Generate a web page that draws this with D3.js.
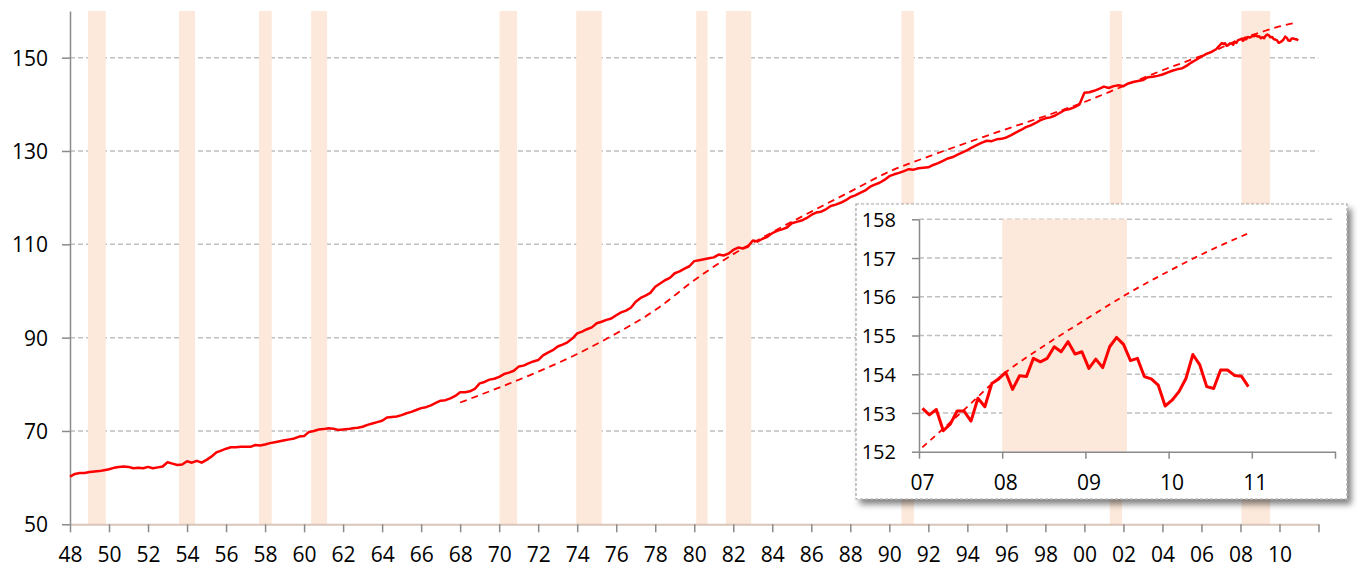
<!DOCTYPE html>
<html>
<head>
<meta charset="utf-8">
<script src="https://cdn.jsdelivr.net/npm/d3@7"></script>
<style>
body { margin: 0; background: #fff; }
text { font-family: "Open Sans", sans-serif; fill: #000; }
</style>
</head>
<body>
<svg id="chart" width="1359" height="569"></svg>
<script>
// labour force, millions, quarterly 1948-2006
var firstYear = 1948;
var laborForceQuarterly = [
    60.2, 60.8, 61.0, 61.0,   // 48
    61.2, 61.3, 61.4, 61.6,   // 49
    61.8, 62.1, 62.3, 62.4,   // 50
    62.3, 62.0, 62.1, 62.0,   // 51
    62.3, 62.0, 62.2, 62.4,   // 52
    63.3, 63.0, 62.7, 62.8,   // 53
    63.5, 63.2, 63.6, 63.2,   // 54
    63.8, 64.5, 65.4, 65.8,   // 55
    66.2, 66.5, 66.5, 66.6,   // 56
    66.6, 66.6, 67.0, 66.9,   // 57
    67.1, 67.4, 67.6, 67.8,   // 58
    68.0, 68.2, 68.4, 68.8,   // 59
    68.9, 69.8, 70.0, 70.3,   // 60
    70.4, 70.6, 70.5, 70.2,   // 61
    70.3, 70.4, 70.6, 70.7,   // 62
    70.9, 71.3, 71.6, 71.9,   // 63
    72.2, 72.9, 73.0, 73.1,   // 64
    73.4, 73.8, 74.1, 74.5,   // 65
    74.9, 75.1, 75.5, 76.0,   // 66
    76.5, 76.6, 77.0, 77.5,   // 67
    78.3, 78.3, 78.5, 79.0,   // 68
    80.2, 80.5, 81.0, 81.2,   // 69
    81.6, 82.2, 82.5, 82.9,   // 70
    83.8, 84.0, 84.5, 84.9,   // 71
    85.2, 86.2, 86.8, 87.3,   // 72
    88.1, 88.5, 89.0, 89.8,   // 73
    90.9, 91.3, 91.8, 92.2,   // 74
    93.1, 93.4, 93.8, 94.1,   // 75
    94.8, 95.4, 95.8, 96.4,   // 76
    97.7, 98.5, 99.0, 99.6,   // 77
    100.9, 101.6, 102.3, 102.8, // 78
    103.8, 104.2, 104.8, 105.3, // 79
    106.4, 106.6, 106.8, 107.0, // 80
    107.2, 107.8, 107.6, 108.0, // 81
    108.8, 109.3, 109.1, 109.5, // 82
    110.8, 110.6, 111.2, 111.6, // 83
    112.4, 112.9, 113.2, 113.6, // 84
    114.5, 114.8, 115.1, 115.6, // 85
    116.3, 116.8, 117.0, 117.5, // 86
    118.2, 118.5, 118.9, 119.4, // 87
    120.1, 120.5, 121.0, 121.5, // 88
    122.3, 122.8, 123.2, 123.8, // 89
    124.6, 125.0, 125.3, 125.7, // 90
    126.1, 126.0, 126.3, 126.4, // 91
    126.5, 127.0, 127.4, 127.9, // 92
    128.4, 128.7, 129.2, 129.7, // 93
    130.2, 130.8, 131.3, 131.8, // 94
    132.2, 132.1, 132.5, 132.6, // 95
    132.9, 133.4, 134.0, 134.5, // 96
    135.1, 135.5, 136.0, 136.6, // 97
    137.0, 137.2, 137.6, 138.2, // 98
    138.8, 139.0, 139.4, 140.0, // 99
    142.5, 142.6, 142.9, 143.3, // 00
    143.8, 143.5, 143.9, 144.1, // 01
    143.9, 144.5, 144.8, 145.0, // 02
    145.2, 145.8, 145.9, 146.1, // 03
    146.4, 146.8, 147.2, 147.5, // 04
    147.7, 148.3, 149.0, 149.6, // 05
    150.2, 150.8, 151.2, 151.8  // 06
];

// monthly Jan 2007 - Dec 2010 (inset)
var insetMonthly = [
    153.12, 152.95, 153.09, 152.54, 152.71, 153.05, 153.05, 152.79, 153.38, 153.16, 153.76, 153.88,
    154.05, 153.61, 153.96, 153.94, 154.41, 154.32, 154.41, 154.71, 154.58, 154.84, 154.52, 154.58,
    154.15, 154.39, 154.17, 154.71, 154.95, 154.77, 154.35, 154.41, 153.94, 153.88, 153.72, 153.18,
    153.33, 153.55, 153.89, 154.51, 154.24, 153.68, 153.63, 154.11, 154.11, 153.97, 153.95, 153.68
];

// trend (dashed)
var trendYears = [1968, 1970, 1972, 1974, 1976, 1978, 1980, 1982, 1984, 1986, 1988, 1990, 1992, 1994, 1996, 1998, 2000, 2002, 2004, 2006, 2007, 2008, 2009, 2010, 2010.9];
var trendValues = [76.1, 79.3, 82.7, 86.5, 90.9, 95.9, 102.3, 107.9, 112.6, 117.0, 121.3, 125.6, 128.8, 131.8, 134.7, 137.5, 140.5, 143.9, 147.3, 150.4, 152.1, 154.0, 155.4, 156.7, 157.5];

var insetTrendYears = [2007.04, 2007.5, 2008, 2008.5, 2009, 2009.5, 2010, 2010.5, 2010.96];
var insetTrendValues = [152.11, 153.0, 153.98, 154.73, 155.41, 156.07, 156.66, 157.2, 157.64];

// recessions (shaded)
var recessionStart = [1948.92, 1953.59, 1957.69, 1960.36, 1970.02, 1973.95, 1980.1, 1981.62, 1990.62, 2001.3, 2008.05];
var recessionEnd   = [1949.83, 1954.41, 1958.34, 1961.18, 1970.92, 1975.26, 1980.68, 1982.92, 1991.26, 2001.93, 2009.52];
var insetRecession = [2008.0, 2009.5];

var mainTicksY = [50, 70, 90, 110, 130, 150];
var insetTicksY = [152, 153, 154, 155, 156, 157, 158];
var insetTicksX = [2007, 2008, 2009, 2010, 2011, 2012];

var svg = d3.select("#chart");
var bandColor = "#fde9db";
var gridColor = "#bfbfbf";
var axisColor = "#8a8a8a";

// ---------- main chart ----------
var x = d3.scaleLinear().domain([1948, 2012]).range([70, 1318.5]);
var y = d3.scaleLinear().domain([50, 160]).range([524.3, 11]);

var mainSeries = laborForceQuarterly.map(function(v, i) {
    return { t: firstYear + i / 4, v: v };
}).concat(insetMonthly.map(function(v, i) {
    return { t: 2007 + (i + 0.5) / 12, v: v };
}));

var trendSeries = trendYears.map(function(t, i) { return { t: t, v: trendValues[i] }; });

// gridlines
svg.append("g").selectAll("line")
    .data(mainTicksY.slice(1))
    .enter().append("line")
    .attr("x1", x(1948)).attr("x2", x(2012))
    .attr("y1", function(d) { return y(d); })
    .attr("y2", function(d) { return y(d); })
    .attr("stroke", gridColor)
    .attr("stroke-width", 1.5)
    .attr("stroke-dasharray", "5,3");

// recession bands
svg.append("g").selectAll("rect")
    .data(recessionStart)
    .enter().append("rect")
    .attr("x", function(d) { return x(d); })
    .attr("width", function(d, i) { return x(recessionEnd[i]) - x(d); })
    .attr("y", y(160))
    .attr("height", y(50) - y(160))
    .attr("fill", bandColor);

// axes
var xAxis = svg.append("g")
    .attr("transform", "translate(0," + y(50) + ")")
    .call(d3.axisBottom(x)
        .tickValues(d3.range(1948, 2013, 2))
        .tickSize(8)
        .tickSizeOuter(0)
        .tickFormat(function(d) { return d <= 2010 ? String(d).slice(2) : ""; }));
xAxis.select(".domain").attr("stroke", "#d8c6ba").attr("stroke-width", 2);
xAxis.selectAll(".tick line").attr("stroke", axisColor).attr("stroke-width", 1.5);
xAxis.selectAll(".tick text")
    .attr("y", 38).attr("dy", 0)
    .style("font-size", "21px")
    .style("font-family", "Open Sans, sans-serif");

var yAxis = svg.append("g")
    .attr("transform", "translate(" + x(1948) + ",0)")
    .call(d3.axisLeft(y)
        .tickValues(mainTicksY)
        .tickSize(8)
        .tickSizeOuter(0));
yAxis.select(".domain").attr("stroke", axisColor).attr("stroke-width", 1.5);
yAxis.selectAll(".tick line").attr("stroke", axisColor).attr("stroke-width", 1.5);
yAxis.selectAll(".tick text")
    .attr("x", -22).attr("dy", "0.36em")
    .style("font-size", "21px")
    .style("font-family", "Open Sans, sans-serif");

// lines
var mainLine = d3.line()
    .x(function(d) { return x(d.t); })
    .y(function(d) { return y(d.v); });

svg.append("path")
    .datum(trendSeries)
    .attr("d", mainLine.curve(d3.curveMonotoneX))
    .attr("fill", "none")
    .attr("stroke", "#ff0000")
    .attr("stroke-width", 1.8)
    .attr("stroke-dasharray", "7,5");

svg.append("path")
    .datum(mainSeries)
    .attr("d", mainLine.curve(d3.curveLinear))
    .attr("fill", "none")
    .attr("stroke", "#ff0000")
    .attr("stroke-width", 2.5)
    .attr("stroke-linejoin", "round");

// ---------- inset ----------
var defs = svg.append("defs");
var shadow = defs.append("filter").attr("id", "shadow")
    .attr("x", "-5%").attr("y", "-5%").attr("width", "115%").attr("height", "115%");
shadow.append("feDropShadow")
    .attr("dx", 4).attr("dy", 5).attr("stdDeviation", 3)
    .attr("flood-color", "#000").attr("flood-opacity", 0.5);

svg.append("rect")
    .attr("x", 856).attr("y", 204)
    .attr("width", 491).attr("height", 295)
    .attr("fill", "#fff")
    .attr("stroke", "#a6a6a6")
    .attr("stroke-width", 1.2)
    .attr("stroke-dasharray", "3,2")
    .attr("filter", "url(#shadow)");

var ix = d3.scaleLinear().domain([2007, 2012]).range([919, 1335]);
var iy = d3.scaleLinear().domain([152, 158]).range([451.7, 219.3]);

svg.append("g").selectAll("line")
    .data(insetTicksY.slice(1))
    .enter().append("line")
    .attr("x1", ix(2007)).attr("x2", ix(2012))
    .attr("y1", function(d) { return iy(d); })
    .attr("y2", function(d) { return iy(d); })
    .attr("stroke", gridColor)
    .attr("stroke-width", 1.5)
    .attr("stroke-dasharray", "5,3");

svg.append("rect")
    .attr("x", ix(insetRecession[0]))
    .attr("width", ix(insetRecession[1]) - ix(insetRecession[0]))
    .attr("y", iy(158))
    .attr("height", iy(152) - iy(158))
    .attr("fill", bandColor);

var ixAxis = svg.append("g")
    .attr("transform", "translate(0," + iy(152) + ")")
    .call(d3.axisBottom(ix)
        .tickValues(insetTicksX)
        .tickSize(7)
        .tickSizeOuter(0)
        .tickFormat(function(d) { return d < 2012 ? String(d).slice(2) : ""; }));
ixAxis.select(".domain").attr("stroke", axisColor).attr("stroke-width", 1.5);
ixAxis.selectAll(".tick line").attr("stroke", axisColor).attr("stroke-width", 1.5);
ixAxis.selectAll(".tick text")
    .attr("y", 38).attr("dy", 0).attr("dx", 3)
    .style("font-size", "21px")
    .style("font-family", "Open Sans, sans-serif");

var iyAxis = svg.append("g")
    .attr("transform", "translate(" + ix(2007) + ",0)")
    .call(d3.axisLeft(iy)
        .tickValues(insetTicksY)
        .tickSize(7)
        .tickSizeOuter(0)
        .tickFormat(d3.format("d")));
iyAxis.select(".domain").attr("stroke", axisColor).attr("stroke-width", 1.5);
iyAxis.selectAll(".tick text")
    .attr("x", -23).attr("dy", "0.36em")
    .style("font-size", "20px")
    .style("font-family", "Open Sans, sans-serif");
iyAxis.selectAll(".tick line").attr("stroke", axisColor).attr("stroke-width", 1.5);

var insetLine = d3.line()
    .x(function(d) { return ix(d.t); })
    .y(function(d) { return iy(d.v); });

svg.append("path")
    .datum(insetTrendYears.map(function(t, i) { return { t: t, v: insetTrendValues[i] }; }))
    .attr("d", insetLine.curve(d3.curveMonotoneX))
    .attr("fill", "none")
    .attr("stroke", "#ff0000")
    .attr("stroke-width", 1.8)
    .attr("stroke-dasharray", "6,5");

svg.append("path")
    .datum(insetMonthly.map(function(v, i) { return { t: 2007 + (i + 0.5) / 12, v: v }; }))
    .attr("d", insetLine.curve(d3.curveLinear))
    .attr("fill", "none")
    .attr("stroke", "#ff0000")
    .attr("stroke-width", 3)
    .attr("stroke-linejoin", "round");
</script>
</body>
</html>
